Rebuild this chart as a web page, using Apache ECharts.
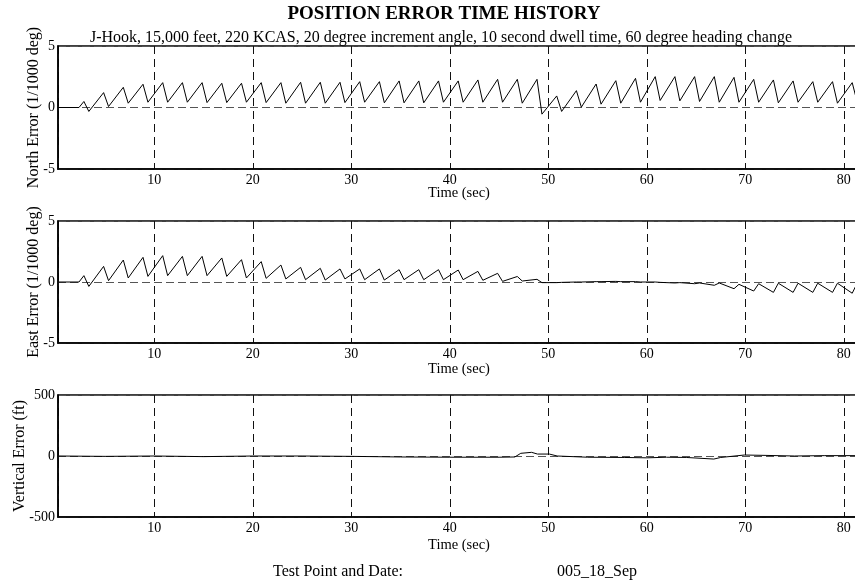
<!DOCTYPE html>
<html>
<head>
<meta charset="utf-8">
<script src="https://cdn.jsdelivr.net/npm/echarts@6/dist/echarts.min.js"></script>
<style>html,body{margin:0;padding:0;background:#fff;}#c{width:855px;height:580px;}</style>
</head>
<body>
<div id="c"></div>
<script>
// Shared time breakpoints (sec) for North / East error traces
var time = [0.25, 2.35, 2.85, 3.35, 4.85, 5.35, 6.85, 7.35, 8.85, 9.35, 10.85, 11.35, 12.85, 13.35, 14.85, 15.35, 16.85, 17.35, 18.85, 19.35, 20.85, 21.35, 22.85, 23.35, 24.85, 25.35, 26.85, 27.35, 28.85, 29.35, 30.85, 31.35, 32.85, 33.35, 34.85, 35.35, 36.85, 37.35, 38.85, 39.35, 40.85, 41.35, 42.85, 43.35, 44.85, 45.35, 46.85, 47.35, 48.85, 49.35, 50.85, 51.35, 52.85, 53.35, 54.85, 55.35, 56.85, 57.35, 58.85, 59.35, 60.85, 61.35, 62.85, 63.35, 64.85, 65.35, 66.85, 67.35, 68.85, 69.35, 70.85, 71.35, 72.85, 73.35, 74.85, 75.35, 76.85, 77.35, 78.85, 79.35, 80.85, 81.35];

// North Error (1/1000 deg)
var north = [0, 0, 0.49, -0.32,
  1.21, 0.08, 1.64, 0.35, 1.89, 0.43, 2.02, 0.43, 2.02, 0.43, 2.02, 0.40, 1.97, 0.40, 1.97, 0.43,
  2.02, 0.40, 2.02, 0.35, 2.05, 0.35, 2.05, 0.35, 2.05, 0.40, 2.10, 0.43, 2.10, 0.38, 2.16, 0.38,
  2.16, 0.38, 2.16, 0.43, 2.16, 0.43, 2.24, 0.43, 2.29, 0.43, 2.29, 0.35, 2.29, -0.54, 0.94, -0.32,
  1.37, 0.03, 1.91, 0.27, 2.18, 0.35, 2.37, 0.43, 2.51, 0.57, 2.51, 0.54, 2.51, 0.49, 2.51, 0.43,
  2.45, 0.43, 2.29, 0.43, 2.24, 0.38, 2.16, 0.43, 2.10, 0.43, 2.10, 0.35, 2.02, 0.45];

// East Error (1/1000 deg)
var east = [0, 0, 0.52, -0.36,
  1.28, 0.11, 1.80, 0.33, 2.02, 0.46, 2.16, 0.52, 2.10, 0.52, 2.10, 0.52, 1.97, 0.46, 1.83, 0.33,
  1.67, 0.30, 1.39, 0.25, 1.20, 0.19, 1.12, 0.16, 1.07, 0.25, 1.07, 0.19, 1.07, 0.16, 1.01, 0.19,
  1.01, 0.19, 1.01, 0.19, 0.98, 0.19, 0.87, 0.14, 0.71, 0.05, 0.45, 0.08, 0.22, -0.05, -0.05, -0.03,
  0.0, 0.0, 0.03, 0.03, 0.05, 0.03, 0.03, 0.0, 0.0, -0.03, -0.08, -0.05, -0.14, -0.08, -0.27, -0.08,
  -0.55, -0.19, -0.74, -0.14, -0.85, -0.10, -0.85, -0.10, -0.85, -0.10, -0.85, -0.10, -0.92, -0.10];

// Vertical Error (ft)
var vTime = [0.25, 5, 10, 15, 20, 25, 30, 35, 40, 45, 46.6, 47.2, 48.3, 48.9, 50.1, 50.9, 54, 57.7, 60, 62, 64, 66.8, 67.5, 69.9, 72, 75, 78, 81.6];
var vert = [0, -3, 0, -5, 0, 0, -3, -8, -10, -10, -8, 22, 30, 16, 16, 0, -10, -12, -15, -10, -12, -25, -12, 8, 5, 0, 3, 3];

var xTickLabels = ['10', '20', '30', '40', '50', '60', '70', '80'];
var yNames = ['North Error (1/1000 deg)', 'East Error (1/1000 deg)', 'Vertical Error (ft)'];
var yRanges = [[-5, 5, 5], [-5, 5, 5], [-500, 500, 500]];

function pairs(t, v) { var out = []; for (var i = 0; i < t.length; i++) out.push([t[i], v[i]]); return out; }

var FONT = '"Liberation Serif", "Times New Roman", serif';
var tops = [46, 221, 395];
var heights = [123, 122, 122];
var yNameGaps = [16, 16, 30];
var xNameGaps = [16.5, 19, 21];

var grids = [], xAxes = [], yAxes = [];
for (var i = 0; i < 3; i++) {
  grids.push({ left: 58, right: -5, top: tops[i], height: heights[i], show: true, borderColor: '#000', borderWidth: 1.5, backgroundColor: 'transparent', outerBoundsMode: 'none', containLabel: false });
  xAxes.push({
    gridIndex: i, type: 'value', min: 0.22, max: 81.64, splitNumber: 8, position: 'bottom',
    name: 'Time (sec)', nameLocation: 'middle', nameGap: xNameGaps[i], nameMoveOverlap: false,
    nameTextStyle: { fontFamily: FONT, fontSize: 14.5, color: '#000' },
    axisLine: { show: true, onZero: false, lineStyle: { color: '#000', width: 1.5 } },
    axisTick: { show: false },
    axisLabel: { fontFamily: FONT, fontSize: 14, color: '#000', margin: 4, showMinLabel: false, showMaxLabel: false,
      formatter: function (v) { var s = String(Math.round(v)); return xTickLabels.indexOf(s) >= 0 ? s : ''; } },
    splitLine: { show: true, lineStyle: { color: '#111', width: 1, type: [8, 5] } }
  });
  yAxes.push({
    gridIndex: i, type: 'value', min: yRanges[i][0], max: yRanges[i][1], interval: yRanges[i][2], position: 'left',
    name: yNames[i], nameLocation: 'middle', nameGap: yNameGaps[i], nameMoveOverlap: false,
    nameTextStyle: { fontFamily: FONT, fontSize: 16, color: '#000' },
    axisLine: { show: true, onZero: false, lineStyle: { color: '#000', width: 1.5 } },
    axisTick: { show: false },
    axisLabel: { fontFamily: FONT, fontSize: 14, color: '#000', margin: 3 },
    splitLine: { show: true, lineStyle: { color: '#555', width: 1, type: [8, 4] } }
  });
}

var lineStyle = { color: '#000', width: 1 };
var chart = echarts.init(document.getElementById('c'), null, { renderer: 'canvas' });
chart.setOption({
  animation: false,
  backgroundColor: '#fff',
  grid: grids,
  xAxis: xAxes,
  yAxis: yAxes,
  series: [
    { type: 'line', xAxisIndex: 0, yAxisIndex: 0, data: pairs(time, north), showSymbol: false, lineStyle: lineStyle, clip: true },
    { type: 'line', xAxisIndex: 1, yAxisIndex: 1, data: pairs(time, east), showSymbol: false, lineStyle: lineStyle, clip: true },
    { type: 'line', xAxisIndex: 2, yAxisIndex: 2, data: pairs(vTime, vert), showSymbol: false, lineStyle: lineStyle, clip: true }
  ],
  graphic: [
    { type: 'text', x: 444, y: 14, z: 100, style: { text: 'POSITION ERROR TIME HISTORY', font: 'bold 19px ' + FONT, fill: '#000', textAlign: 'center', textVerticalAlign: 'middle', align: 'center', verticalAlign: 'middle' } },
    { type: 'text', x: 441, y: 38, z: 100, style: { text: 'J-Hook, 15,000 feet, 220 KCAS, 20 degree increment angle, 10 second dwell time, 60 degree heading change', font: '16px ' + FONT, fill: '#000', textAlign: 'center', textVerticalAlign: 'middle', align: 'center', verticalAlign: 'middle' } },
    { type: 'text', x: 273, y: 572, z: 100, style: { text: 'Test Point and Date:', font: '16px ' + FONT, fill: '#000', textAlign: 'left', textVerticalAlign: 'middle', align: 'left', verticalAlign: 'middle' } },
    { type: 'text', x: 557, y: 572, z: 100, style: { text: '005_18_Sep', font: '16px ' + FONT, fill: '#000', textAlign: 'left', textVerticalAlign: 'middle', align: 'left', verticalAlign: 'middle' } }
  ]
});
</script>
</body>
</html>
